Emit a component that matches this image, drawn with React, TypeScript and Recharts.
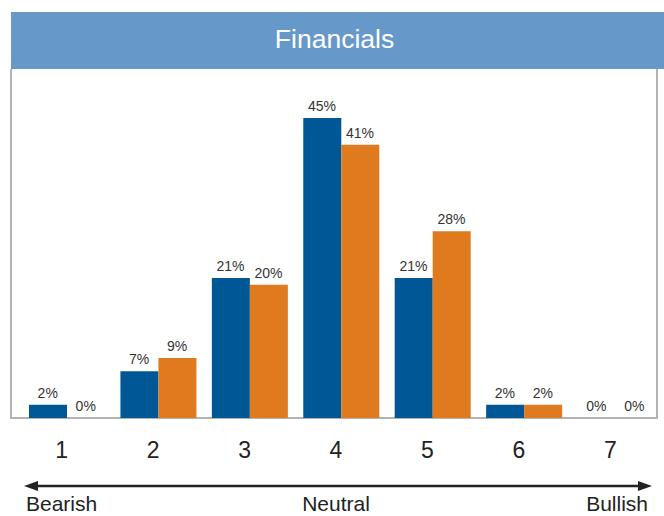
import React from "react";
import { ComposedChart, Bar, Line, XAxis, YAxis, LabelList } from "recharts";

const categories = ["1", "2", "3", "4", "5", "6", "7"];
const seriesA = [2, 7, 21, 45, 21, 2, 0];
const seriesB = [0, 9, 20, 41, 28, 2, 0];
const scaleLabels = ["Bearish", "Neutral", "Bullish"];
const title = "Financials";

const data = categories.map((c, i) => ({ cat: c, a: seriesA[i], b: seriesB[i] }));

const FONT = "'Liberation Sans', Arial, Helvetica, sans-serif";
const BAR_W = 38;

const Tick = (props: any) => {
  const { x, y, payload } = props;
  return (
    <text x={x - 5} y={y + 32} textAnchor="middle" fontSize={23} fill="#222" fontFamily={FONT}>
      {payload.value}
    </text>
  );
};

const makeLabel = (shift: number) => (props: any) => {
  const { x, y, value } = props;
  if (value == null) return null;
  return (
    <text x={Number(x) + shift} y={Number(y) - 7} textAnchor="middle" fontSize={14} fill="#333" fontFamily={FONT}>
      {`${value}%`}
    </text>
  );
};
const LabelA = makeLabel(-BAR_W / 2);
const LabelB = makeLabel(BAR_W / 2);

export default function App() {
  return (
    <div style={{ position: "absolute", left: 0, top: 0, width: 664, height: 516, background: "#fff", fontFamily: FONT }}>
      <div
        style={{
          position: "absolute",
          left: 11,
          top: 12,
          width: 653,
          height: 57,
          background: "#6699c9",
          color: "#fff",
          fontSize: 26.5,
          lineHeight: "55px",
          textAlign: "center",
          paddingRight: 6,
          boxSizing: "border-box",
        }}
      >
        {title}
      </div>
      <div
        style={{
          position: "absolute",
          left: 10,
          top: 69,
          width: 648,
          height: 350,
          borderLeft: "2px solid #b3b3b3",
          borderRight: "2px solid #b3b3b3",
          borderBottom: "2px solid #b3b3b3",
          boxSizing: "border-box",
        }}
      />
      <div style={{ position: "absolute", left: 0, top: 0 }}>
        <ComposedChart
          width={664}
          height={516}
          data={data}
          margin={{ top: 69, right: 3, bottom: 68, left: 21 }}
          barCategoryGap="8.4%"
          barGap={0}
        >
          <XAxis dataKey="cat" axisLine={false} tickLine={false} height={30} tick={<Tick />} interval={0} />
          <YAxis hide domain={[0, 52.35]} />
          <Bar dataKey="a" fill="#005796" isAnimationActive={false} barSize={BAR_W} />
          <Bar dataKey="b" fill="#e07a1f" isAnimationActive={false} barSize={BAR_W} />
          <Line dataKey="a" stroke="none" dot={false} activeDot={false} isAnimationActive={false}>
            <LabelList dataKey="a" content={LabelA} />
          </Line>
          <Line dataKey="b" stroke="none" dot={false} activeDot={false} isAnimationActive={false}>
            <LabelList dataKey="b" content={LabelB} />
          </Line>
        </ComposedChart>
      </div>
      <svg style={{ position: "absolute", left: 0, top: 0 }} width={664} height={516}>
        <line x1={34} y1={486} x2={642} y2={486} stroke="#222" strokeWidth={2.5} />
        <polygon points="24,486 38,481 38,491" fill="#222" />
        <polygon points="652,486 638,481 638,491" fill="#222" />
        <text x={26} y={511} fontSize={21} fill="#222" fontFamily={FONT}>{scaleLabels[0]}</text>
        <text x={336} y={511} fontSize={21} fill="#222" textAnchor="middle" fontFamily={FONT}>{scaleLabels[1]}</text>
        <text x={648} y={511} fontSize={21} fill="#222" textAnchor="end" fontFamily={FONT}>{scaleLabels[2]}</text>
      </svg>
    </div>
  );
}
